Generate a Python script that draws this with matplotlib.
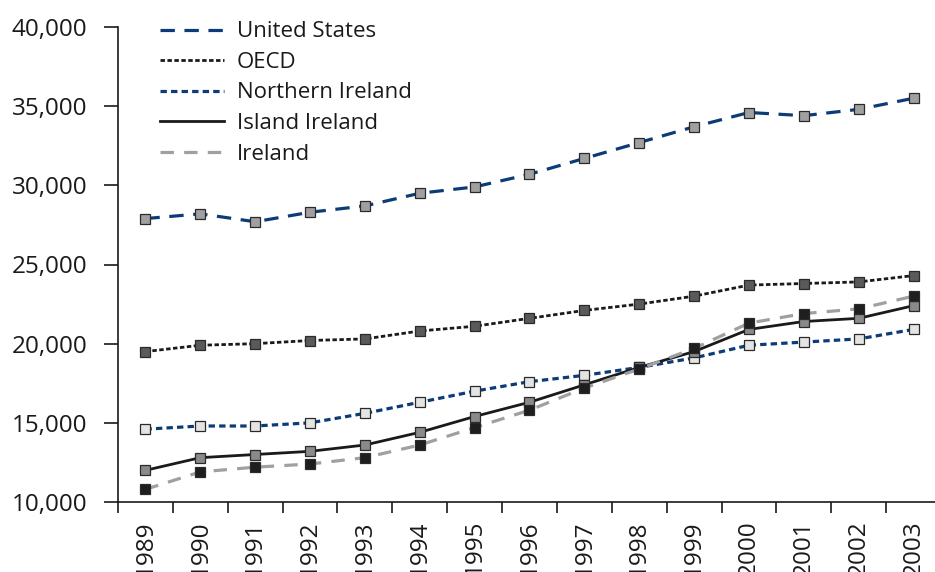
import numpy as np
import matplotlib.pyplot as plt
from matplotlib.lines import Line2D
from matplotlib.ticker import FuncFormatter, FixedLocator

plt.rcParams['font.family'] = ['Open Sans', 'DejaVu Sans']

years = [str(y) for y in range(1989, 2004)]

united_states = [27900, 28200, 27700, 28300, 28700, 29500, 29900, 30700,
                 31700, 32700, 33700, 34600, 34400, 34800, 35500]
oecd = [19500, 19900, 20000, 20200, 20300, 20800, 21100, 21600,
        22100, 22500, 23000, 23700, 23800, 23900, 24300]
northern_ireland = [14600, 14800, 14800, 15000, 15600, 16300, 17000, 17600,
                    18000, 18500, 19100, 19900, 20100, 20300, 20900]
island_ireland = [12000, 12800, 13000, 13200, 13600, 14400, 15400, 16300,
                  17400, 18500, 19500, 20900, 21400, 21600, 22400]
ireland = [10800, 11900, 12200, 12400, 12800, 13600, 14700, 15800,
           17200, 18400, 19700, 21300, 21900, 22200, 23000]

navy = '#0b3c78'
series = [
    ('United States', united_states, dict(color=navy, lw=2.3, dashes=(4.5, 3.0)), '#a0a0a0'),
    ('OECD', oecd, dict(color='#1a1a1a', lw=2.0, dashes=(1.6, 0.9)), '#5a5a5a'),
    ('Northern Ireland', northern_ireland, dict(color=navy, lw=2.3, dashes=(2.0, 1.3)), '#e4e4e4'),
    ('Island Ireland', island_ireland, dict(color='#1a1a1a', lw=2.0, linestyle='-'), '#8a8a8a'),
    ('Ireland', ireland, dict(color='#a0a0a0', lw=2.3, dashes=(4.2, 3.2)), '#1e1e1e'),
]

fig = plt.figure(figsize=(9.35, 5.72), dpi=100)
ax = fig.add_axes([118 / 935, 1 - 502 / 572, 823 / 935, 475 / 572])

x = np.arange(len(years))
handles = []
for name, vals, style, mfc in series:
    ax.plot(x, vals, marker='s', markersize=7, markerfacecolor=mfc,
            markeredgecolor='#2a2a2a', markeredgewidth=0.9, **style)
    handles.append(Line2D([], [], label=name, **style))

ax.set_xlim(-0.5, len(years) - 0.5)
ax.set_ylim(10000, 40000)
ax.set_yticks(np.arange(10000, 40001, 5000))
ax.yaxis.set_major_formatter(FuncFormatter(lambda v, p: f'{int(v):,}'))
ax.set_xticks(x)
ax.set_xticklabels(years, rotation=90)
ax.xaxis.set_minor_locator(FixedLocator(np.arange(-0.5, len(years), 1.0)))

for s in ['top', 'right']:
    ax.spines[s].set_visible(False)
for s in ['left', 'bottom']:
    ax.spines[s].set_linewidth(1.2)
    ax.spines[s].set_color('#1a1a1a')

ax.tick_params(axis='y', length=10, width=1.2, pad=12, labelsize=17.5,
               color='#1a1a1a', labelcolor='#1a1a1a')
ax.tick_params(axis='x', which='major', length=0, pad=13, labelsize=17.5,
               labelcolor='#1a1a1a')
ax.tick_params(axis='x', which='minor', length=8, width=1.2, color='#1a1a1a')

ax.legend(handles=handles, loc='upper left', bbox_to_anchor=(0.051, 1.012),
          frameon=False, fontsize=16, handlelength=2.9, handletextpad=0.55,
          labelspacing=0.43, borderpad=0, borderaxespad=0,
          labelcolor='#1a1a1a')

fig.savefig('out.png', dpi=100)
